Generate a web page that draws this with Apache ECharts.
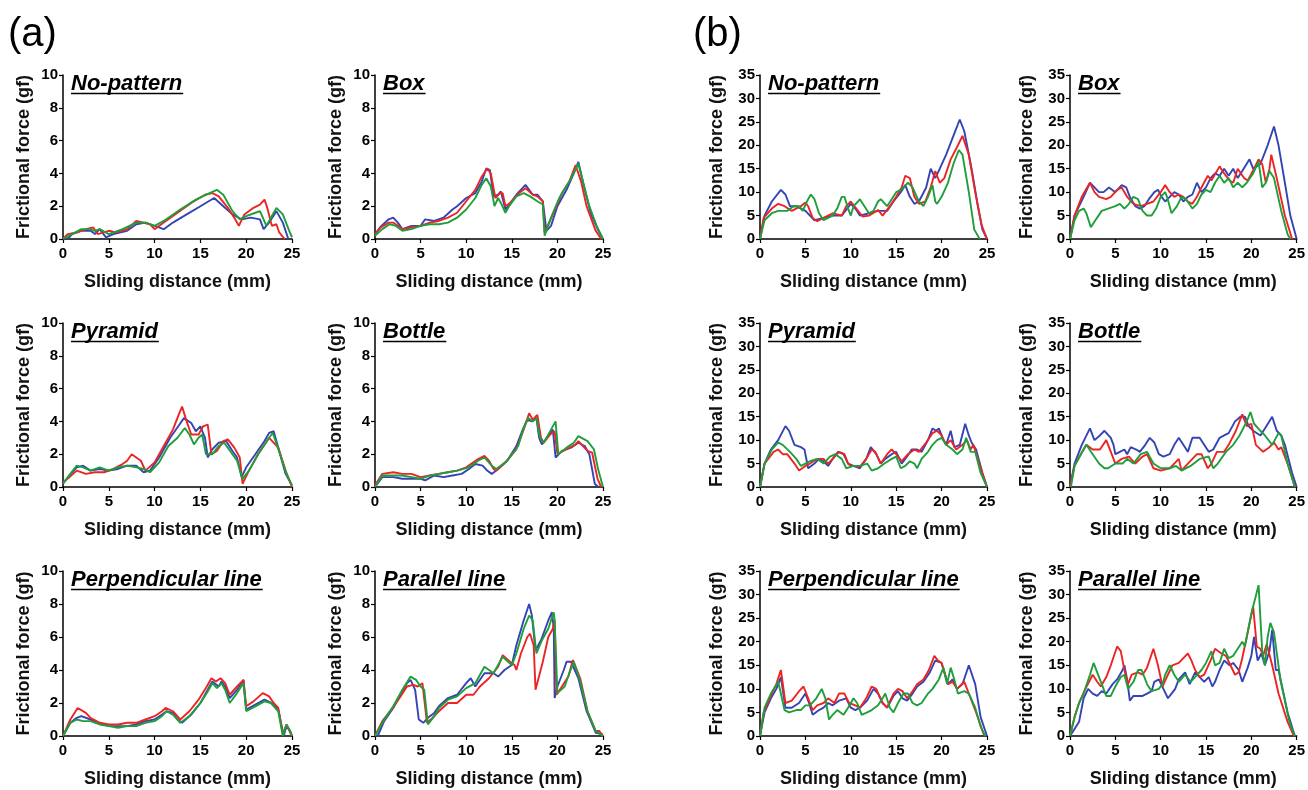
<!DOCTYPE html>
<html><head><meta charset="utf-8">
<script src="https://cdn.jsdelivr.net/npm/echarts@6/dist/echarts.min.js"></script>
<style>html,body{margin:0;padding:0;background:#fff}#c{width:1308px;height:790px}</style>
</head><body><div id="c"></div>
<script>
// ---------- DATA ----------
const panelTitles = ['No-pattern','Box','Pyramid','Bottle','Perpendicular line','Parallel line'];
const figureLabels = ['(a)','(b)'];
const xTickMax = 25, xTickStep = 5;
const yMaxA = 10, yStepA = 2, yMaxB = 35, yStepB = 5;
const xName = 'Sliding distance (mm)';
const yName = 'Frictional force (gf)';

// (a) No-pattern
const aNoPatBlue = [[0.5,0],[1,0.3],[2,0.5],[3,0.5],[3.5,0.3],[4,0.6],[4.7,0.1],[5.5,0.3],[7,0.5],[8,0.9],[9,1.0],[10,0.8],[11,0.6],[12,1.0],[13.5,1.5],[15,2.0],[16.5,2.5],[17.5,2.0],[18.5,1.5],[19.5,1.2],[20.5,1.3],[21.5,1.2],[21.9,0.6],[22.5,1.0],[23.3,1.7],[24,1.0],[24.6,0]];
const aNoPatRed = [[0,0],[0.5,0.3],[1.5,0.4],[2.5,0.6],[3.3,0.7],[3.8,0.3],[5,0.5],[5.8,0.4],[7,0.6],[8,1.1],[9.5,0.9],[10,0.6],[11,1.0],[12.5,1.6],[14,2.2],[15.5,2.7],[16.3,2.8],[17,2.6],[18,1.9],[18.8,1.2],[19.2,0.8],[19.8,1.5],[20.8,1.9],[21.5,2.1],[22,2.4],[22.3,1.9],[22.8,0.8],[23.3,0.9],[23.6,0.4],[24.2,0]];
const aNoPatGreen = [[0,0],[1,0.3],[2,0.6],[2.8,0.6],[3.5,0.5],[4,0.6],[5,0.3],[6.5,0.6],[8,1.0],[9,1.0],[10,0.8],[11,1.1],[12.8,1.8],[14.5,2.4],[16,2.8],[16.8,3.0],[17.5,2.7],[18.5,1.7],[19.3,1.2],[20,1.4],[21,1.6],[21.5,1.7],[21.9,1.2],[22.2,0.8],[22.8,1.4],[23.3,1.9],[24,1.5],[24.7,0.5],[25,0.1]];
// (a) Box
const aBoxBlue = [[0,0.3],[0.7,0.8],[1.5,1.2],[2,1.3],[2.5,1.0],[3,0.6],[4,0.8],[5,0.8],[5.5,1.2],[6.5,1.1],[7.5,1.3],[8.5,1.8],[9,2.0],[10,2.5],[11,2.8],[11.7,3.5],[12.2,4.3],[12.6,4.2],[13,2.6],[13.5,2.7],[13.8,2.9],[14.3,1.8],[14.6,2.0],[15.5,2.7],[16.5,3.3],[17.3,2.7],[17.8,2.7],[18.4,2.3],[18.8,0.5],[19.3,0.8],[20,2.0],[21,3.0],[21.8,4.0],[22.3,4.7],[23,3.0],[23.7,1.5],[24.5,0.5],[25,0]];
const aBoxRed = [[0,0.3],[0.6,0.7],[1.5,1.0],[2,1.0],[2.5,0.8],[3,0.6],[4,0.7],[5,0.8],[6,1.0],[7,1.1],[8,1.3],[9,1.6],[10,2.3],[11,3.0],[11.7,3.8],[12.3,4.3],[12.7,4.0],[13.2,2.5],[13.7,2.8],[14,2.8],[14.3,2.0],[14.8,2.2],[15.8,2.8],[16.5,3.1],[17.3,2.7],[17.8,2.6],[18.4,2.3],[18.6,0.4],[19.5,1.5],[20.5,2.8],[21.3,3.5],[22,4.5],[22.6,3.5],[23.2,2.0],[24.2,0.5],[24.8,0]];
const aBoxGreen = [[0,0.2],[0.8,0.6],[1.6,0.9],[2.3,0.8],[3,0.5],[4,0.6],[5,0.8],[6,0.9],[7,0.9],[8,1.0],[9,1.3],[10,1.8],[11,2.5],[11.7,3.3],[12.2,3.7],[12.7,3.2],[13.1,2.0],[13.5,2.5],[13.8,2.2],[14.3,1.6],[14.7,2.0],[15.5,2.6],[16.3,2.8],[17,2.6],[17.8,2.3],[18.4,2.1],[18.6,0.2],[19.3,1.3],[20.2,2.5],[21.3,3.5],[22.3,4.6],[22.8,3.5],[23.5,2.0],[24.3,0.8],[25,0]];
// (a) Pyramid
const aPyrBlue = [[0,0.2],[0.7,0.7],[1.5,1.2],[2.2,1.3],[3,1.0],[4,1.1],[5,1.0],[6,1.1],[7,1.3],[8,1.3],[8.8,0.9],[9.5,1.0],[10.5,1.8],[11.7,3.0],[12.7,3.8],[13.2,4.2],[14,3.9],[14.5,3.4],[15,3.7],[15.5,3.0],[15.8,1.8],[16.3,2.3],[17,2.7],[17.8,2.8],[18.5,2.2],[19,1.8],[19.5,0.6],[20,1.2],[21,2.0],[22,2.8],[22.5,3.3],[23,3.4],[23.7,2.0],[24.3,0.8],[25,0.1]];
const aPyrRed = [[0,0.3],[0.7,0.6],[1.5,1.0],[2.5,0.8],[3.5,0.9],[4.5,0.9],[5.5,1.1],[6.5,1.4],[7,1.6],[7.5,2.0],[8,1.8],[8.5,1.6],[9,1.0],[10,1.5],[11,2.5],[12,3.5],[12.7,4.5],[13,4.9],[13.5,4.0],[14,3.2],[14.8,3.2],[15.3,3.7],[15.8,3.8],[16.2,2.0],[16.8,2.2],[17.5,2.8],[18,2.9],[18.7,2.4],[19.3,1.8],[19.6,0.2],[20.3,1.0],[21.3,2.0],[22.5,3.0],[23.5,2.4],[24.3,1.0],[25,0]];
const aPyrGreen = [[0,0.2],[0.8,0.8],[1.5,1.3],[2.2,1.2],[3,1.0],[4,1.2],[5,1.0],[6,1.2],[7,1.3],[8,1.2],[8.8,1.1],[9.5,0.9],[10.5,1.5],[11.5,2.5],[12.5,3.0],[13.3,3.6],[13.8,3.2],[14.3,2.6],[14.8,3.0],[15.2,3.2],[15.6,2.0],[16.3,2.0],[17,2.5],[17.6,2.7],[18.5,2.0],[19,1.6],[19.6,0.5],[20.3,1.0],[21.3,2.0],[22.5,3.0],[22.9,3.3],[23.7,2.0],[24.4,0.8],[25,0.1]];
// (a) Bottle
const aBotBlue = [[0,0],[0.8,0.6],[2,0.6],[3,0.5],[4,0.5],[5,0.5],[5.5,0.4],[6.5,0.7],[7.5,0.6],[8.5,0.7],[9.5,0.8],[10.3,1.1],[11,1.4],[11.8,1.3],[12.3,1.0],[12.8,0.8],[13.5,1.1],[14.5,1.6],[15.5,2.5],[16.2,3.5],[16.7,4.1],[17.2,4.0],[17.7,4.2],[18,3.0],[18.3,2.6],[19,3.1],[19.5,3.5],[19.8,1.8],[20.5,2.2],[21.5,2.4],[22.3,2.7],[23,2.5],[23.5,2.0],[24.1,0.2],[24.5,0]];
const aBotRed = [[0,0.1],[0.8,0.8],[2,0.9],[3,0.8],[4,0.8],[5,0.6],[6,0.7],[7,0.8],[8,0.9],[9,1.0],[10,1.2],[11.3,1.7],[12,1.9],[12.5,1.6],[13,1.1],[13.3,1.0],[14.3,1.5],[15.5,2.3],[16.3,3.5],[16.9,4.5],[17.3,4.1],[17.8,4.4],[18.2,3.0],[18.5,2.7],[19.2,3.2],[19.7,3.4],[20,2.0],[21,2.3],[22,2.6],[22.3,2.8],[23.3,2.2],[23.8,2.1],[24.4,0.5],[24.8,0]];
const aBotGreen = [[0,0],[0.8,0.7],[2,0.7],[3,0.7],[4,0.6],[5,0.5],[6,0.7],[7,0.8],[8,0.9],[9,1.0],[10.3,1.2],[11.3,1.6],[12,1.8],[12.8,1.3],[13.3,1.1],[14.5,1.6],[15.7,2.5],[16.3,3.6],[16.8,4.2],[17.3,4.0],[17.7,4.2],[18.1,3.0],[18.5,2.7],[19.3,3.5],[19.8,4.0],[20.1,2.0],[21,2.4],[21.8,2.7],[22.3,3.1],[23.3,2.8],[24,2.3],[24.5,1.0],[25,0]];
// (a) Perpendicular line
const aPerpBlue = [[0,0],[0.8,0.8],[1.5,1.1],[2,1.2],[3,1.0],[4,0.8],[5,0.6],[6,0.6],[7,0.6],[8,0.7],[9,0.9],[10,1.0],[10.8,1.3],[11.3,1.5],[12,1.4],[12.5,1.0],[13,0.8],[14,1.3],[15,2.0],[15.8,2.8],[16.3,3.3],[17,3.0],[17.3,3.3],[17.7,3.0],[18.2,2.3],[19,2.8],[19.7,3.4],[20,1.6],[21,1.9],[22,2.2],[22.8,2.0],[23.5,1.6],[24.1,0],[24.4,0.6],[24.8,0.3],[25,0]];
const aPerpRed = [[0,0],[0.8,1.0],[1.6,1.7],[2.5,1.4],[3,1.1],[4,0.8],[5,0.7],[6,0.7],[7,0.8],[8,0.8],[9,1.0],[10,1.2],[10.8,1.5],[11.2,1.7],[12,1.5],[12.8,1.0],[13.8,1.5],[14.8,2.2],[15.7,3.0],[16.2,3.5],[16.7,3.3],[17.2,3.5],[17.7,3.2],[18.2,2.5],[19,3.0],[19.7,3.4],[20,1.8],[20.8,2.1],[21.8,2.6],[22.5,2.4],[23,2.0],[23.5,1.7],[24,0.1],[24.4,0.7],[24.8,0.2],[25,0]];
const aPerpGreen = [[0,0],[0.8,0.8],[1.5,1.0],[2.2,0.9],[3,0.9],[4,0.7],[5,0.6],[6,0.5],[7,0.6],[8,0.6],[9,0.8],[10,0.9],[10.8,1.2],[11.3,1.5],[12,1.3],[12.8,0.8],[13.8,1.2],[15,2.0],[15.8,2.7],[16.3,3.2],[16.8,2.9],[17.3,3.2],[17.7,2.8],[18.2,2.0],[19,2.6],[19.7,3.2],[20,1.5],[21,1.8],[22,2.1],[22.7,2.0],[23.5,1.5],[24,0],[24.4,0.7],[24.8,0.3],[25,0]];
// (a) Parallel line
const aParBlue = [[0.3,0],[1,0.9],[2,1.7],[2.8,2.5],[3.5,3.2],[3.9,3.4],[4.4,2.8],[4.8,1.0],[5.3,0.8],[5.8,1.1],[6.5,1.4],[7,1.8],[8,2.3],[9,2.5],[10,3.2],[10.5,3.5],[11,3.0],[12,3.8],[13,3.8],[13.5,3.6],[14.2,4.0],[15,4.3],[15.5,5.5],[16.3,7.0],[16.9,8.0],[17.2,7.3],[17.6,5.2],[18.2,5.8],[19,7.0],[19.4,7.5],[19.6,6.5],[19.7,2.3],[20,3.0],[20.7,4.0],[21,4.5],[21.5,4.5],[22.3,3.5],[23.2,1.5],[24.2,0.2],[25,0.1]];
const aParRed = [[0,0],[0.8,0.9],[1.8,1.6],[2.8,2.4],[3.5,3.0],[4.2,3.1],[4.7,3.0],[5.2,3.2],[5.7,0.8],[6.3,1.1],[7,1.5],[8,2.0],[9,2.0],[10,2.5],[10.8,2.5],[11.5,3.0],[12.5,3.5],[13.5,4.2],[14,4.9],[14.8,4.5],[15.3,4.3],[15.5,4.0],[16,5.0],[16.7,6.0],[17,6.2],[17.4,5.5],[17.6,2.8],[18.4,4.5],[19,6.0],[19.5,6.5],[19.7,7.0],[19.9,2.5],[20.5,3.0],[21.2,3.6],[21.7,4.6],[22.5,3.5],[23.3,1.5],[24.2,0.3],[24.6,0.3],[25,0]];
const aParGreen = [[0,0],[0.9,0.9],[2,1.8],[3,2.8],[3.9,3.6],[4.5,3.4],[5,3.0],[5.4,2.8],[5.8,0.7],[6.5,1.2],[7,1.7],[8,2.2],[9,2.4],[10,2.9],[11,3.2],[12,4.2],[13,3.8],[14,4.8],[15,4.3],[15.5,5.0],[16.3,6.5],[16.9,7.3],[17.3,7.0],[17.7,5.0],[18.3,5.8],[19,6.5],[19.6,7.5],[19.7,7.0],[20,2.6],[20.8,3.0],[21.3,3.8],[21.8,4.5],[22.5,3.3],[23.3,1.5],[24.2,0.3],[25,0]];

// (b) No-pattern
const bNoPatBlue = [[0,0],[0.5,5],[1.3,8],[2.3,10.5],[2.8,9.5],[3.3,7],[4,7],[5,6],[6,4],[7,4.5],[8,5],[9,5],[10,7.5],[10.5,6.5],[11,5],[12,5.5],[13,6],[14,6],[14.7,8],[15.5,10],[16,11.5],[16.5,9],[17,7.5],[17.5,8],[18.3,11],[18.8,15],[19.3,13],[19.8,15],[20.5,18],[21.3,22],[22,25.5],[22.5,23],[23.3,15],[24,7],[24.5,2],[25,0]];
const bNoPatRed = [[0,0],[0.4,4.5],[1.3,6.5],[2,7.5],[2.7,7],[3.5,6],[4.5,7],[5,7.8],[5.3,7],[5.8,4.5],[6.3,3.8],[7,4.5],[8,5.5],[9,5],[9.5,7],[10,8],[10.8,6],[11.3,4.8],[12,5],[13,6.2],[13.5,5],[14.3,7],[15,9],[15.6,11],[16,13.5],[16.5,13],[17,9],[17.5,7.5],[18.2,8],[18.8,11],[19.3,14.5],[19.8,12],[20.3,13],[21,17],[21.8,20],[22.3,22],[23,18],[23.7,10],[24.4,3],[25,0]];
const bNoPatGreen = [[0,0],[0.5,4],[1.3,5.5],[2,6],[3,6],[3.7,7],[4.3,7],[4.7,6],[5.3,8.5],[5.6,9.5],[6,8.5],[6.5,5.5],[7,4],[8,5],[8.5,6.5],[9,9],[9.3,9],[9.7,6.5],[10,5],[10.3,7],[10.8,8],[11,8.5],[11.5,7],[12,5.5],[12.5,6],[13,8],[13.3,8.5],[14,7],[15,10],[15.5,10.5],[15.8,11],[16.3,12],[16.8,11],[17.5,8],[18,7],[18.5,9],[19,11.5],[19.3,8],[19.5,7.5],[20,9],[20.7,12],[21.3,16],[21.9,19],[22.3,18],[23,10],[23.6,2],[24.2,0]];
// (b) Box
const bBoxBlue = [[0,0],[0.5,5],[1.5,9],[2.2,12],[2.7,11],[3.2,10],[3.7,10],[4.3,11],[5,10],[5.7,11.5],[6.2,11],[6.6,9],[7.2,7],[7.7,6.5],[8.2,7],[8.7,8.5],[9.3,10],[9.7,10.5],[10.1,9],[10.5,8],[11,9],[11.5,10],[12,9.5],[12.5,8],[13,9],[13.5,9.5],[14,12],[14.5,10],[15,11],[15.5,13],[16,14],[16.5,13.5],[17,15],[17.5,13.5],[18,15],[18.5,13],[19,14.5],[19.8,17],[20.2,15],[21,16],[21.8,20],[22.5,24],[23,20],[23.7,12],[24.3,5],[25,0]];
const bBoxRed = [[0,0],[0.5,5],[1.3,9],[2.2,12],[2.7,10],[3.2,9],[4,8.5],[4.5,9],[5.2,10.5],[5.7,11],[6.3,9],[7,7.5],[7.8,7],[8.5,7.5],[9.2,8],[10,10],[10.5,11.5],[11,10],[11.5,9],[12,9.5],[12.5,9],[13,8],[13.5,7.5],[14,9],[14.5,11],[15.2,13.5],[15.6,12.5],[16.5,15.5],[17,14],[17.6,12.5],[18,12],[18.5,15],[19.2,13],[19.6,12.5],[20.3,15],[20.8,17],[21.2,16],[21.6,12],[22,15],[22.2,18],[22.8,13],[23.7,5],[24.5,0]];
const bBoxGreen = [[0,0],[0.5,4],[1,6],[1.5,6.5],[1.8,5.5],[2.3,2.5],[2.8,4],[3.5,6],[4.2,6.5],[5,7],[5.5,7.5],[6,6.5],[6.5,7.5],[7,9],[7.5,8.5],[8,6],[8.5,5],[9,5],[9.5,6.5],[10,9],[10.5,10],[10.7,9],[11.2,5.5],[11.8,7],[12.3,9],[12.8,8.5],[13.5,6.5],[14,7.5],[14.5,9.5],[15,10.5],[15.5,10],[16,12],[16.5,13.5],[17,12],[17.5,13],[18,11],[18.5,12],[19,11],[19.5,12],[20.2,14],[20.8,16.5],[21.2,11],[21.6,12],[22,14.5],[22.5,13],[23.3,6],[24,1],[24.3,0]];
// (b) Pyramid
const bPyrBlue = [[0,0],[0.5,5],[1.2,8],[2,10],[2.8,13],[3.2,12],[3.8,9],[4.5,8.5],[4.9,8],[5.3,4],[6,5],[6.5,6],[7,5.5],[7.5,4.5],[8,6],[8.6,7.5],[9.2,7],[9.7,5],[10.3,4.5],[11,4],[11.7,6],[12.2,8.5],[12.8,7],[13.3,5],[13.8,6],[14.5,7],[15,7.5],[15.6,5],[16.2,6.5],[16.7,8],[17.3,8],[17.8,7.5],[18.5,10],[19,12.5],[19.4,12],[19.7,12.5],[20.2,10],[20.5,9],[21,12],[21.4,8.5],[22,9],[22.6,13.5],[23,11],[23.3,9.5],[23.8,8],[24.5,3],[25,0]];
const bPyrRed = [[0,0],[0.5,5],[1.5,7.5],[2,8],[2.5,7],[3,7],[3.8,5],[4.3,3.5],[5,4.5],[5.5,5],[6.3,6],[7,6],[7.5,5],[8,6],[8.7,7.5],[9.3,7],[9.7,5],[10,4.5],[11,4.3],[11.7,6],[12.3,8],[12.7,7.5],[13.3,5],[14,7],[14.5,8],[15,7],[15.6,5.5],[16.3,7],[17,8],[17.5,7.5],[18.3,9.5],[19,11.5],[19.5,12],[20,11],[20.5,9],[21,10],[21.6,8],[22.3,9],[22.8,10],[23.2,8],[23.5,9],[24.3,4],[25,0]];
const bPyrGreen = [[0,0],[0.5,5],[1.3,8],[2,9.5],[2.5,9],[3.3,7.5],[4,6],[4.5,4.5],[5,5],[5.5,5.5],[6.3,6],[7,5],[7.7,6.5],[8.3,7],[9,6],[9.5,4],[10.3,4.5],[11,4.5],[11.8,5],[12.3,3.5],[13,4],[13.7,5],[14.5,6],[15,6.5],[15.5,4],[16,4.5],[16.5,5.5],[17,5],[17.3,4],[17.8,6],[18.5,7.5],[19,9],[19.5,10],[20,10.5],[20.5,9],[21.2,8],[21.7,7],[22.3,8],[22.7,10.5],[23.2,7.5],[23.7,7.5],[24.3,3],[25,0]];
// (b) Bottle
const bBotBlue = [[0,0],[0.5,5],[1.3,9],[2.2,12.5],[2.7,10],[3.3,11],[3.8,12],[4.5,10.5],[4.8,9],[5,7],[5.5,7.5],[6,8],[6.3,7],[6.7,8.5],[7.3,8],[7.7,7.5],[8.3,9],[8.8,10.5],[9.3,9.5],[9.8,7],[10.3,6.5],[11,7],[11.5,9],[12,10.5],[12.5,9],[13,7.5],[13.5,10.5],[14.3,10.5],[14.8,9],[15.3,7.5],[15.8,8],[16.5,10.5],[17,11],[17.5,11.5],[18.2,14],[18.8,15],[19.3,15],[19.7,13],[20.2,12],[21,11],[21.5,12.5],[22.3,15],[22.8,12],[23.3,11],[23.7,9],[24.5,3],[25,0]];
const bBotRed = [[0,0],[0.5,4.5],[1.2,7],[1.8,9],[2.5,8],[3.3,8],[4,10],[4.6,7],[5,5],[5.7,6],[6.5,6.5],[7.2,5],[8,6.5],[8.5,7],[9.2,4],[10,3.5],[11,4],[11.5,5],[12,6],[12.3,3.5],[13,5],[14,7],[14.5,7],[15.2,4],[15.6,5],[16.2,7.5],[17,7.5],[17.5,9],[18.3,12],[19,15.5],[19.5,13],[20,13.5],[20.5,9],[21.3,7.5],[22,8.5],[22.5,9.5],[23,8],[23.3,8.5],[24,5],[24.8,0]];
const bBotGreen = [[0.1,0],[0.5,4.5],[1.2,7],[1.8,9],[2.5,7],[3.2,5],[3.8,4],[4.2,4],[5,5],[5.8,5],[6.3,6],[7,5],[7.8,7],[8.5,7.5],[9.2,5],[10,4],[11,4],[11.7,4.5],[12.3,3.5],[13.3,4.5],[14.3,6],[15.3,6.5],[15.8,4],[16.3,5],[17.2,7.5],[18,9],[18.7,11],[19.5,14],[19.9,16],[20.3,13.5],[21,12],[21.5,11],[22.3,9],[23,11.5],[23.3,11],[24,5],[24.8,0]];
// (b) Perpendicular line
const bPerpBlue = [[0,0],[0.5,5],[1.2,8],[1.8,10],[2.3,12.5],[2.8,6],[3.5,6],[4.3,7],[5,9],[5.4,7],[5.8,4.5],[6.5,5.5],[7,6],[7.5,7],[8,6.5],[8.7,7.5],[9.5,8],[10,6],[10.5,5.5],[11,6],[11.8,7.5],[12.5,10],[13,9],[13.5,7],[14,6],[14.7,8.5],[15.2,9.5],[15.7,8],[16.2,7.5],[16.8,9],[17.3,10.5],[18,11.5],[18.7,13.5],[19.3,16],[20,15.5],[20.7,11],[21.2,12],[21.7,10],[22.3,11],[23,15],[23.7,11],[24.3,4],[25,0]];
const bPerpRed = [[0,0],[0.4,5],[1.2,8.5],[1.8,11],[2.3,14],[2.8,7],[3.5,7.5],[4.3,9.5],[4.8,10.5],[5.3,8],[5.8,5.5],[6.3,6.5],[7,7],[7.5,8],[8.2,7],[8.7,9],[9.3,9],[9.8,7],[10.5,6.5],[11,6],[11.7,8],[12.3,10.5],[12.8,10],[13.5,7],[14,6],[14.7,9],[15.2,10],[15.7,9.5],[16.2,8],[16.8,9.5],[17.3,11],[18,12],[18.6,14],[19.2,17],[19.6,16],[20,15.5],[20.7,11],[21.2,11.5],[21.7,10],[22.5,11.5],[23,9],[23.8,5],[24.7,0]];
const bPerpGreen = [[0,0],[0.5,6],[1.2,9],[2,11.5],[2.3,9],[2.7,5.5],[3.2,5],[4,5.5],[4.5,5.5],[5,6.5],[5.5,6.5],[6.2,8],[6.8,10],[7.2,8],[7.6,3.5],[8,4.5],[8.5,5.5],[9.2,4.5],[9.7,6],[10.3,8],[10.7,7],[11.2,4.5],[11.8,5],[12.3,5.5],[13,6.5],[13.5,8],[13.8,9],[14.3,6],[14.7,5],[15.2,7],[15.8,9],[16.3,9],[16.8,7],[17.3,6.5],[17.8,7],[18.5,9],[19,10],[19.7,12],[20.2,14.5],[20.6,11],[21,14.5],[21.4,12],[21.8,9],[22.5,9.5],[23,9],[23.7,6],[24.3,2],[24.8,0]];
// (b) Parallel line
const bParBlue = [[0,0],[0.5,1.5],[1,3],[1.5,8],[2,10],[2.5,9],[3,8.5],[3.5,9.5],[4,9],[4.7,11],[5.2,12],[5.8,14],[6,15],[6.3,12],[6.6,7.5],[7,8.5],[8,8.5],[8.5,9],[9,9.5],[9.3,11.5],[9.8,12],[10.3,10],[10.8,8],[11.2,9],[11.6,10],[12,12],[12.7,13.5],[13.2,11],[13.8,13.5],[14.3,12.5],[14.8,11.5],[15.3,12.5],[15.7,10.5],[16,11.5],[16.5,14],[17,16],[17.6,15],[18,15.5],[18.6,14],[19,11.5],[19.6,14.5],[20,17],[20.3,21],[20.7,16],[21.1,17.5],[21.5,15],[22,18],[22.3,22.5],[22.7,14],[23,14],[24,5],[24.8,0]];
const bParRed = [[0,0],[0.5,4],[1,7],[1.7,10],[2.5,13],[3,11.5],[3.4,10.5],[4,12.5],[4.5,15],[5.2,19],[5.6,18],[6,14],[6.4,11],[6.8,13],[7.5,13.5],[8,13],[8.5,14.5],[9.2,18.5],[9.7,15],[10.2,10.5],[10.8,13],[11.3,15],[12,15.5],[12.5,16.5],[13,17.5],[13.4,16],[13.8,14],[14.3,12.5],[14.8,13],[15.5,16],[16,18.5],[16.7,17.5],[17.2,17],[17.7,15],[18.2,13],[18.6,13.5],[19,16.5],[19.6,22],[20.2,27.5],[20.6,19],[21,18.5],[21.3,17],[21.7,19.5],[22.3,15],[23,9],[24,3],[24.7,0]];
const bParGreen = [[0,0],[0.5,4],[1,7],[1.5,9],[2.2,13],[2.6,15.5],[3,13.5],[3.5,11],[4,8.5],[4.5,8.5],[5,10.5],[5.6,12.5],[6,13],[6.4,10],[7,11.5],[7.5,14],[7.9,14],[8.5,11],[9,9.5],[9.8,10],[10.2,11],[10.5,13],[11,15],[11.5,13],[12,11.5],[12.7,13],[13.3,11.5],[13.8,12.5],[14.5,14],[15,15.5],[15.6,18],[16,15],[16.5,15.5],[17,18.5],[17.5,16.5],[18,17],[18.5,18.5],[19,20],[19.3,19],[20,26],[20.8,32],[21.2,18],[21.5,15],[21.8,21],[22.1,24],[22.5,22],[23.2,12],[24.2,3],[24.8,0]];

const panelsA = [[aNoPatBlue,aNoPatRed,aNoPatGreen],[aBoxBlue,aBoxRed,aBoxGreen],[aPyrBlue,aPyrRed,aPyrGreen],[aBotBlue,aBotRed,aBotGreen],[aPerpBlue,aPerpRed,aPerpGreen],[aParBlue,aParRed,aParGreen]];
const panelsB = [[bNoPatBlue,bNoPatRed,bNoPatGreen],[bBoxBlue,bBoxRed,bBoxGreen],[bPyrBlue,bPyrRed,bPyrGreen],[bBotBlue,bBotRed,bBotGreen],[bPerpBlue,bPerpRed,bPerpGreen],[bParBlue,bParRed,bParGreen]];

// ---------- LAYOUT / STYLE ----------
const lineColors = ['#3444b4','#ec2424','#1f9e3c'];
const FONT = '"Liberation Sans", Arial, Helvetica, sans-serif';
const colLeft = [63, 375, 760, 1070];
const colWidth = [229, 228, 227, 228];
const rowTop = [75, 323, 571];
const rowHeight = [164, 164, 165];

const grids = [], xAxes = [], yAxes = [], series = [], graphics = [];
const mctx = document.createElement('canvas').getContext('2d');
mctx.font = 'italic bold 22px ' + FONT;

function addPanel(fig, idx, data) {
  const col = fig * 2 + (idx % 2);
  const row = Math.floor(idx / 2);
  const gi = grids.length;
  const left = colLeft[col], top = rowTop[row];
  grids.push({left: left, top: top, width: colWidth[col], height: rowHeight[row]});
  xAxes.push({
    gridIndex: gi, type: 'value', min: 0, max: xTickMax, interval: xTickStep,
    name: xName, nameLocation: 'middle', nameGap: 34,
    nameTextStyle: {fontFamily: FONT, fontWeight: 'bold', fontSize: 18, color: '#111'},
    axisLine: {lineStyle: {color: '#000', width: 1.5}},
    axisTick: {show: true, length: 4, lineStyle: {color: '#000', width: 1.2}},
    axisLabel: {fontFamily: FONT, fontWeight: 'bold', fontSize: 15, color: '#000', margin: 7},
    splitLine: {show: false}
  });
  const yMax = fig === 0 ? yMaxA : yMaxB;
  const yStep = fig === 0 ? yStepA : yStepB;
  yAxes.push({
    gridIndex: gi, type: 'value', min: 0, max: yMax, interval: yStep,
    name: yName, nameLocation: 'middle', nameGap: fig === 0 ? 30 : 34, nameRotate: 90,
    nameTextStyle: {fontFamily: FONT, fontWeight: 'bold', fontSize: 18, color: '#111'},
    axisLine: {show: true, lineStyle: {color: '#000', width: 1.5}},
    axisTick: {show: true, length: 4, lineStyle: {color: '#000', width: 1.2}},
    axisLabel: {fontFamily: FONT, fontWeight: 'bold', fontSize: 15, color: '#000', margin: 5},
    splitLine: {show: false}
  });
  data.forEach((d, k) => {
    series.push({
      type: 'line', xAxisIndex: gi, yAxisIndex: gi, data: d,
      showSymbol: false, symbol: 'none', smooth: false,
      lineStyle: {color: lineColors[k], width: 1.9}, silent: true, animation: false
    });
  });
  const title = panelTitles[idx];
  const tx = left + 8, ty = top - 2;
  const tw = mctx.measureText(title).width;
  graphics.push({type: 'text', left: tx, top: ty, silent: true,
    style: {text: title, font: 'italic bold 22px ' + FONT, fill: '#000'}});
  graphics.push({type: 'line', silent: true,
    shape: {x1: tx, y1: top + 18.5, x2: tx + tw + 1, y2: top + 18.5},
    style: {stroke: '#000', lineWidth: 1.6}});
}

panelsA.forEach((d, i) => addPanel(0, i, d));
panelsB.forEach((d, i) => addPanel(1, i, d));

graphics.push({type: 'text', left: 8, top: 15, silent: true,
  style: {text: figureLabels[0], font: '40px ' + FONT, fill: '#000'}});
graphics.push({type: 'text', left: 693, top: 15, silent: true,
  style: {text: figureLabels[1], font: '40px ' + FONT, fill: '#000'}});

const chart = echarts.init(document.getElementById('c'), null, {renderer: 'canvas'});
chart.setOption({
  animation: false,
  backgroundColor: '#fff',
  grid: grids, xAxis: xAxes, yAxis: yAxes, series: series, graphic: graphics
});
</script></body></html>
